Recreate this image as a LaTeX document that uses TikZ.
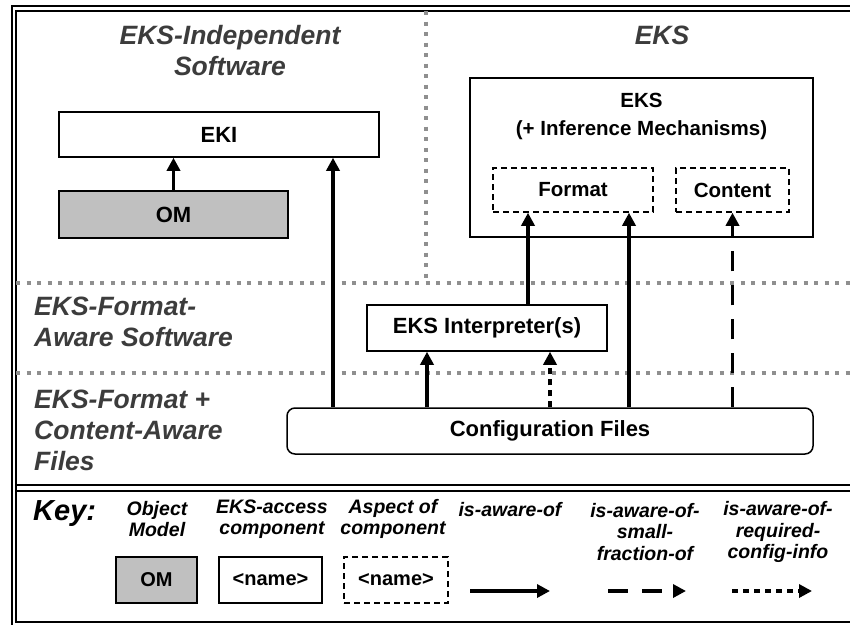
\documentclass[tikz,border=0pt]{standalone}
\usepackage{fontspec}
\setmainfont{Liberation Sans}
\usepackage{tikz}
\usetikzlibrary{positioning,arrows.meta}
\definecolor{zonegray}{HTML}{8F8F8F}
\definecolor{labelgray}{HTML}{3C3C3C}
\definecolor{omfill}{HTML}{C0C0C0}
\newcommand{\boxfont}{\fontsize{22}{25}\selectfont\bfseries}
\newcommand{\innerfont}{\fontsize{20.5}{23}\selectfont\bfseries}
\newcommand{\zonefont}{\fontsize{26.5}{31}\selectfont\bfseries\itshape}
\newcommand{\keyfont}{\fontsize{19.5}{21.5}\selectfont\bfseries\itshape}

\begin{document}
\begin{tikzpicture}[x=1pt, y=-1pt,
    box/.style={draw, line width=1.5pt, fill=white, inner sep=0pt, font=\boxfont, align=center},
    ombox/.style={box, fill=omfill},
    aspect/.style={box, font=\innerfont, dash pattern=on 6pt off 4pt},
    keybox/.style={font=\fontsize{20}{23}\selectfont\bfseries, minimum width=#1, minimum height=46pt},
    aware/.style={line width=3.5pt, -{Triangle[length=13pt, width=13pt]}},
    fraction/.style={aware, dash pattern=on 20pt off 14pt},
    required/.style={aware, dash pattern=on 6pt off 5pt},
    zoneline/.style={zonegray, line width=4pt, dash pattern=on 4pt off 6.5pt},
    zonelabel/.style={text=labelgray, font=\zonefont, inner sep=0pt},
    keylabel/.style={font=\keyfont, align=center, inner sep=0pt}]
    \useasboundingbox (0,0) rectangle (850,624);
    \clip (0,0) rectangle (850,624);

    % frame and zones
    \draw[line width=2.2pt] (12,6) rectangle (880,660);
    \draw[line width=1.4pt] (16,11) rectangle (880,622);
    \draw[line width=2.2pt] (16,485) -- (880,485);
    \draw[line width=1.4pt] (16,491) -- (880,491);
    \draw[zoneline] (426,11) -- (426,283);
    \draw[zoneline] (16,283) -- (850,283);
    \draw[zoneline] (16,373) -- (850,373);

    \node[zonelabel, align=center] (indep) at (230,51) {EKS-Independent\\Software};
    \node[zonelabel] (ekszone) at (662,35) {EKS};
    \node[zonelabel, align=left, anchor=west] (fmtaware) at (34,322) {EKS-Format-\\Aware Software};
    \node[zonelabel, align=left, anchor=west] (files) at (34,430) {EKS-Format +\\Content-Aware\\Files};

    % components
    \node[box, minimum width=320pt, minimum height=45pt] (eki) at (219,134.5) {EKI};
    \node[ombox, minimum width=229pt, minimum height=47pt] (om) at (173.5,214.5) {OM};
    \node[box, minimum width=343pt, minimum height=159pt] (eks) at (641.5,157.5) {};
    \node[font=\innerfont, align=center, inner sep=0pt] (ekstitle) at (641.5,116) {EKS\\[5pt](+ Inference Mechanisms)};
    \node[aspect, minimum width=160pt, minimum height=44pt] (format) at (573,190) {Format};
    \node[aspect, minimum width=113pt, minimum height=44pt] (content) at (732.5,190) {Content};
    \node[box, minimum width=240pt, minimum height=46pt] (interp) at (487,328) {EKS Interpreter(s)};
    \node[box, rounded corners=8pt, minimum width=526pt, minimum height=46pt] (cfg) at (550,431) {Configuration Files};

    % awareness
    \coordinate (toeki) at (333,0);
    \coordinate (tointa) at (427,0);
    \coordinate (tointb) at (550,0);
    \coordinate (toforma) at (528,0);
    \coordinate (toformb) at (629,0);
    \draw[aware] (om.north) -- (om.north |- eki.south);
    \draw[aware] (cfg.north -| toeki) -- (eki.south -| toeki);
    \draw[aware] (cfg.north -| tointa) -- (interp.south -| tointa);
    \draw[required] (cfg.north -| tointb) -- (interp.south -| tointb);
    \draw[aware] (interp.north -| toforma) -- (format.south -| toforma);
    \draw[aware] (cfg.north -| toformb) -- (format.south -| toformb);
    \draw[fraction] (cfg.north -| content.south) -- (content.south);

    % key
    \node[font=\fontsize{29}{32}\selectfont\bfseries\itshape, anchor=west, inner sep=0pt] (key) at (33,514) {Key:};
    \node[keylabel] (kobj) at (157,519) {Object\\Model};
    \node[keylabel] (kacc) at (272,519) {EKS-access\\component};
    \node[keylabel] (kasp) at (393,519) {Aspect of\\component};
    \node[keylabel] (kaw) at (510,510) {is-aware-of};
    \node[keylabel] (kfrac) at (645,532) {is-aware-of-\\small-\\fraction-of};
    \node[keylabel] (kreq) at (778,532) {is-aware-of-\\required-\\config-info};
    \node[ombox, keybox=81pt] (kom) at (156.5,580) {OM};
    \node[box, keybox=103pt] (kname) at (270.5,580) {<name>};
    \node[aspect, keybox=104pt] (kaspect) at (396,580) {<name>};
    \coordinate (kawa) at (470,591);
    \coordinate (kawb) at (550,591);
    \coordinate (kfra) at (608,591);
    \coordinate (kfrb) at (686,591);
    \coordinate (kreqa) at (732,591);
    \coordinate (kreqb) at (812,591);
    \draw[aware] (kawa) -- (kawb);
    \draw[fraction] (kfra) -- (kfrb);
    \draw[required] (kreqa) -- (kreqb);
\end{tikzpicture}
\end{document}
